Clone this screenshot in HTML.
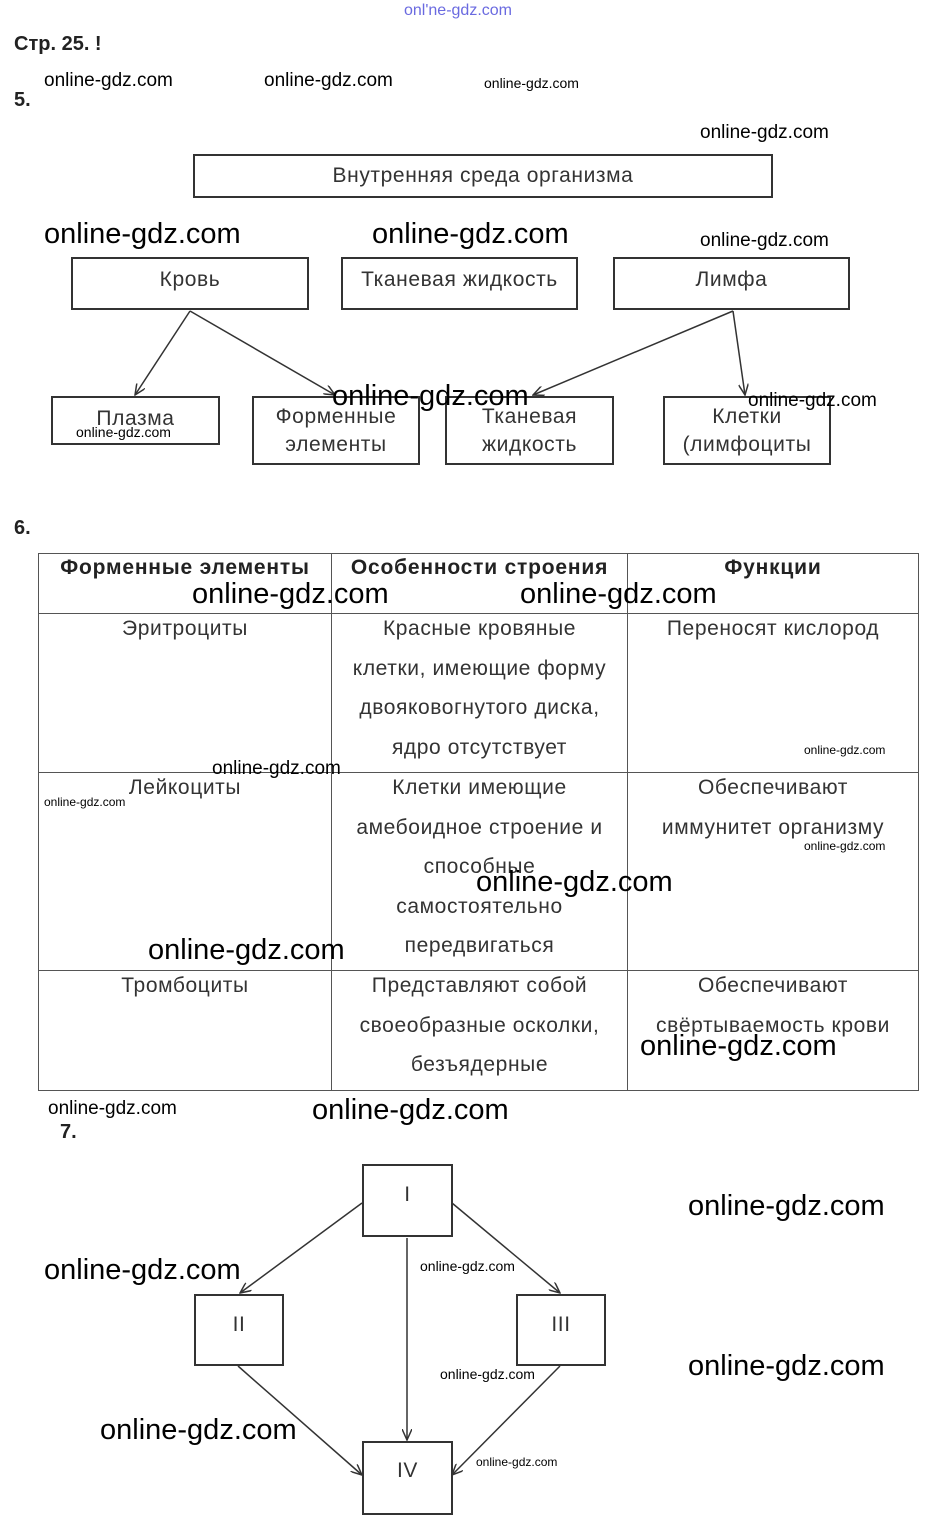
<!DOCTYPE html>
<html><head><meta charset="utf-8"><style>
body{margin:0;background:#fff;}
#c{position:relative;width:930px;height:1535px;font-family:"Liberation Sans",sans-serif;color:#222;}
.t{position:absolute;white-space:nowrap;}
.b{position:absolute;border:2px solid #333;box-sizing:border-box;text-align:center;font-size:21px;letter-spacing:0.6px;color:#333;white-space:nowrap;}
.w{position:absolute;white-space:nowrap;color:#000;}
.wl{font-size:29px;}
.wm{font-size:19px;}
.ws{font-size:13px;}
table{position:absolute;left:38px;top:553px;border-collapse:collapse;table-layout:fixed;width:880px;}
td{border:1px solid #555;vertical-align:top;text-align:center;font-size:21px;letter-spacing:0.6px;line-height:39.5px;color:#333;padding:0;white-space:nowrap;overflow:hidden;}
td div{margin-top:-5px;}
th{border:1px solid #555;font-size:21px;letter-spacing:0.8px;font-weight:bold;height:59px;vertical-align:top;line-height:28px;color:#222;padding:0;white-space:nowrap;}
</style></head><body><div id="c">
<div class="t" style="left:404px;top:2px;font-size:16px;color:#6a6ae0">onl'ne-gdz.com</div>
<div class="t" style="left:14px;top:33px;font-size:20px;font-weight:bold">Стр. 25. !</div>
<div class="t" style="left:14px;top:89px;font-size:20px;font-weight:bold">5.</div>
<div class="w wm" style="left:44px;top:70px">online-gdz.com</div>
<div class="w wm" style="left:264px;top:70px">online-gdz.com</div>
<div class="w ws" style="left:484px;top:75px;font-size:14px">online-gdz.com</div>
<div class="w wm" style="left:700px;top:122px">online-gdz.com</div>

<div class="b" style="left:193px;top:154px;width:580px;height:44px;line-height:40px">Внутренняя среда организма</div>
<div class="w wl" style="left:44px;top:218px">online-gdz.com</div>
<div class="w wl" style="left:372px;top:218px">online-gdz.com</div>
<div class="w wm" style="left:700px;top:230px">online-gdz.com</div>
<div class="b" style="left:71px;top:257px;width:238px;height:53px;line-height:42px">Кровь</div>
<div class="b" style="left:341px;top:257px;width:237px;height:53px;line-height:42px">Тканевая жидкость</div>
<div class="b" style="left:613px;top:257px;width:237px;height:53px;line-height:42px">Лимфа</div>
<div class="b" style="left:51px;top:396px;width:169px;height:49px;line-height:42px">Плазма</div>
<div class="b" style="left:252px;top:396px;width:168px;height:69px;line-height:28px;padding-top:5px">Форменные<br>элементы</div>
<div class="b" style="left:445px;top:396px;width:169px;height:69px;line-height:28px;padding-top:5px">Тканевая<br>жидкость</div>
<div class="b" style="left:663px;top:396px;width:168px;height:69px;line-height:28px;padding-top:5px">Клетки<br>(лимфоциты</div>
<svg style="position:absolute;left:0;top:0" width="930" height="1535">
<defs><marker id="a" markerWidth="12" markerHeight="10" refX="11" refY="5" orient="auto" markerUnits="userSpaceOnUse"><path d="M0,0 L11,5 L0,10" fill="none" stroke="#333" stroke-width="1.5"/></marker></defs>
<g stroke="#333" stroke-width="1.5" fill="none" marker-end="url(#a)">
<line x1="190" y1="311" x2="135" y2="395"/>
<line x1="190" y1="311" x2="335" y2="395"/>
<line x1="733" y1="311" x2="533" y2="395"/>
<line x1="733" y1="311" x2="745" y2="395"/>
<line x1="362" y1="1203" x2="240" y2="1293"/>
<line x1="452" y1="1203" x2="560" y2="1293"/>
<line x1="407" y1="1238" x2="407" y2="1440"/>
<line x1="238" y1="1366" x2="362" y2="1475"/>
<line x1="560" y1="1366" x2="452" y2="1475"/>
</g></svg>
<div class="w wl" style="left:332px;top:380px">online-gdz.com</div>
<div class="w wm" style="left:748px;top:390px">online-gdz.com</div>
<div class="w ws" style="left:76px;top:424px;font-size:14px">online-gdz.com</div>

<div class="t" style="left:14px;top:517px;font-size:20px;font-weight:bold">6.</div>
<table>
<colgroup><col style="width:293px"><col style="width:296px"><col style="width:291px"></colgroup>
<tr><th>Форменные элементы</th><th>Особенности строения</th><th>Функции</th></tr>
<tr style="height:159px"><td><div>Эритроциты</div></td><td><div>Красные кровяные<br>клетки, имеющие форму<br>двояковогнутого диска,<br>ядро отсутствует</div></td><td><div>Переносят кислород</div></td></tr>
<tr style="height:198px"><td><div>Лейкоциты</div></td><td><div>Клетки имеющие<br>амебоидное строение и<br>способные<br>самостоятельно<br>передвигаться</div></td><td><div>Обеспечивают<br>иммунитет организму</div></td></tr>
<tr style="height:120px"><td><div>Тромбоциты</div></td><td><div>Представляют собой<br>своеобразные осколки,<br>безъядерные</div></td><td><div>Обеспечивают<br>свёртываемость крови</div></td></tr>
</table>
<div class="w wl" style="left:192px;top:578px">online-gdz.com</div>
<div class="w wl" style="left:520px;top:578px">online-gdz.com</div>
<div class="w ws" style="left:804px;top:743px;font-size:12px">online-gdz.com</div>
<div class="w wm" style="left:212px;top:758px">online-gdz.com</div>
<div class="w ws" style="left:44px;top:795px;font-size:12px">online-gdz.com</div>
<div class="w ws" style="left:804px;top:839px;font-size:12px">online-gdz.com</div>
<div class="w wl" style="left:476px;top:866px">online-gdz.com</div>
<div class="w wl" style="left:148px;top:934px">online-gdz.com</div>
<div class="w wl" style="left:640px;top:1030px">online-gdz.com</div>
<div class="w wm" style="left:48px;top:1098px">online-gdz.com</div>
<div class="w wl" style="left:312px;top:1094px">online-gdz.com</div>

<div class="t" style="left:60px;top:1121px;font-size:20px;font-weight:bold">7.</div>
<div class="b" style="left:362px;top:1164px;width:91px;height:73px;line-height:58px">I</div>
<div class="b" style="left:194px;top:1294px;width:90px;height:72px;line-height:58px">II</div>
<div class="b" style="left:516px;top:1294px;width:90px;height:72px;line-height:58px">III</div>
<div class="b" style="left:362px;top:1441px;width:91px;height:74px;line-height:56px">IV</div>
<div class="w wl" style="left:688px;top:1190px">online-gdz.com</div>
<div class="w ws" style="left:420px;top:1258px;font-size:14px">online-gdz.com</div>
<div class="w wl" style="left:44px;top:1254px">online-gdz.com</div>
<div class="w wl" style="left:688px;top:1350px">online-gdz.com</div>
<div class="w ws" style="left:440px;top:1366px;font-size:14px">online-gdz.com</div>
<div class="w wl" style="left:100px;top:1414px">online-gdz.com</div>
<div class="w ws" style="left:476px;top:1455px;font-size:12px">online-gdz.com</div>
</div></body></html>
